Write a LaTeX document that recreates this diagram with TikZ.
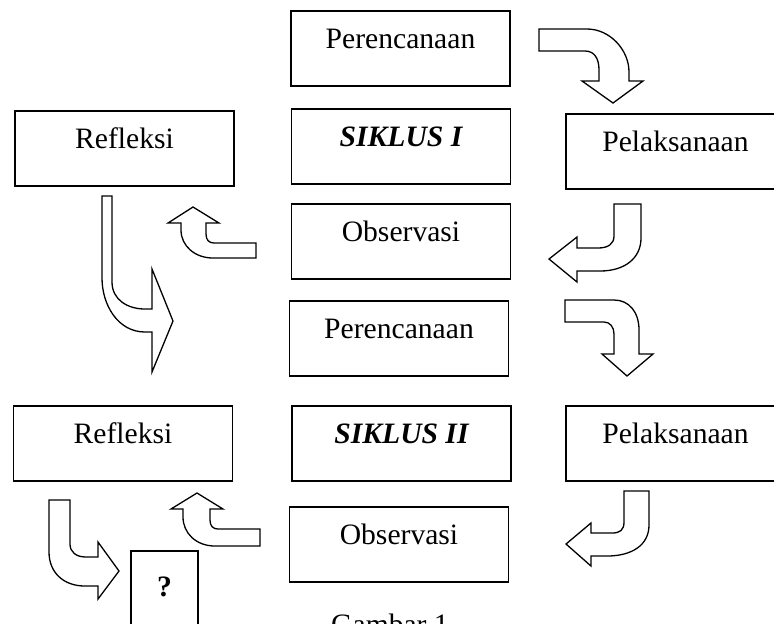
\documentclass[tikz,border=0pt]{standalone}
\usepackage{fontspec}
\setmainfont{Liberation Serif}
\definecolor{Ink}{HTML}{000000}
\tikzset{
  stage/.style={draw=Ink,line width=0.9pt,minimum width=109.5pt,minimum height=37.5pt,text height=10pt,text depth=10pt,inner sep=0pt,fill=white,text=Ink},
  siklus/.style={stage,font=\fontsize{14.8}{17.5}\selectfont\bfseries\itshape},
  qbox/.style={stage,minimum width=33.5pt,minimum height=45pt,font=\fontsize{14.8}{17.5}\selectfont\bfseries},
  bentArrow/.style={draw=Ink,line width=0.65pt,fill=white,line join=miter}
}

\begin{document}
\begin{tikzpicture}[x=0.5pt,y=-0.5pt,font=\fontsize{14.8}{17.5}\selectfont]
  \useasboundingbox (0,0) rectangle (774,623);
  \fill[white] (0,0) rectangle (774,623);
  \node[stage] (per1) at (400.5,48.5) {Perencanaan};
  \node[siklus] (sik1) at (401,146.5) {SIKLUS I};
  \node[stage] (obs1) at (401,241.5) {Observasi};
  \node[stage] (ref1) at (124.5,148.5) {Refleksi};
  \node[stage] (pel1) at (675.5,151.5) {Pelaksanaan};
  \node[stage] (per2) at (399,338.5) {Perencanaan};
  \node[siklus] (sik2) at (401.5,443.5) {SIKLUS II};
  \node[stage] (obs2) at (399,544.5) {Observasi};
  \node[stage] (ref2) at (123,443.5) {Refleksi};
  \node[stage] (pel2) at (675.5,443.5) {Pelaksanaan};
  \node[qbox] (q) at (164.5,596) {?};
  \node[anchor=base] (gambar) at (390,634) {Gambar 1};
  \draw[bentArrow] (539,29) -- (587,29) .. controls (610,29) and (629,50) .. (629,72) -- (629,81) -- (643,81) -- (613,103)
    -- (582,81) -- (599,81) -- (599,70) .. controls (599,58) and (594,51) .. (585,51) -- (539,51) -- cycle;
  \draw[bentArrow] (614,204) -- (641,204) -- (641,238) .. controls (641,258) and (625,271) .. (600,271) -- (577,271) -- (577,282)
    -- (549,259) -- (577,237) -- (577,248) -- (598,248) .. controls (608,248) and (614,244) .. (614,236) -- cycle;
  \draw[bentArrow] (256,243) -- (256,258) -- (213,258) .. controls (195,258) and (181,246) .. (181,230) -- (181,223) -- (168,223)
    -- (193,207) -- (219,223) -- (206,223) -- (206,234) .. controls (206,240) and (209,243) .. (214,243) -- cycle;
  \draw[bentArrow] (102,196) -- (112,196) -- (112,282) .. controls (112,300) and (128,309) .. (145,309) -- (152,309) -- (152,269)
    -- (173,321) -- (152,372) -- (152,332) -- (145,332) .. controls (118,332) and (102,305) .. (102,278) -- cycle;
  \draw[bentArrow] (565,300) -- (614,300) .. controls (629,300) and (639,312) .. (639,330) -- (639,354) -- (653,354) -- (627,376)
    -- (602,354) -- (614,354) -- (614,334) .. controls (614,327) and (610,322) .. (604,322) -- (565,322) -- cycle;
  \draw[bentArrow] (624,491) -- (649,491) -- (649,525) .. controls (649,545) and (632,556) .. (607,556) -- (591,556) -- (591,566)
    -- (566,544) -- (591,523) -- (591,533) -- (612,533) .. controls (620,533) and (624,530) .. (624,522) -- cycle;
  \draw[bentArrow] (260,529) -- (260,546) -- (215,546) .. controls (196,546) and (183,533) .. (183,517) -- (183,509) -- (171,509)
    -- (197,493) -- (223,509) -- (210,509) -- (210,520) .. controls (210,526) and (213,529) .. (218,529) -- cycle;
  \draw[bentArrow] (49,500) -- (70,500) -- (70,544) .. controls (70,552) and (76,557) .. (86,557) -- (98,557) -- (98,542)
    -- (119,571) -- (98,599) -- (98,586) -- (85,586) .. controls (63,586) and (49,572) .. (49,552) -- cycle;
\end{tikzpicture}
\end{document}
